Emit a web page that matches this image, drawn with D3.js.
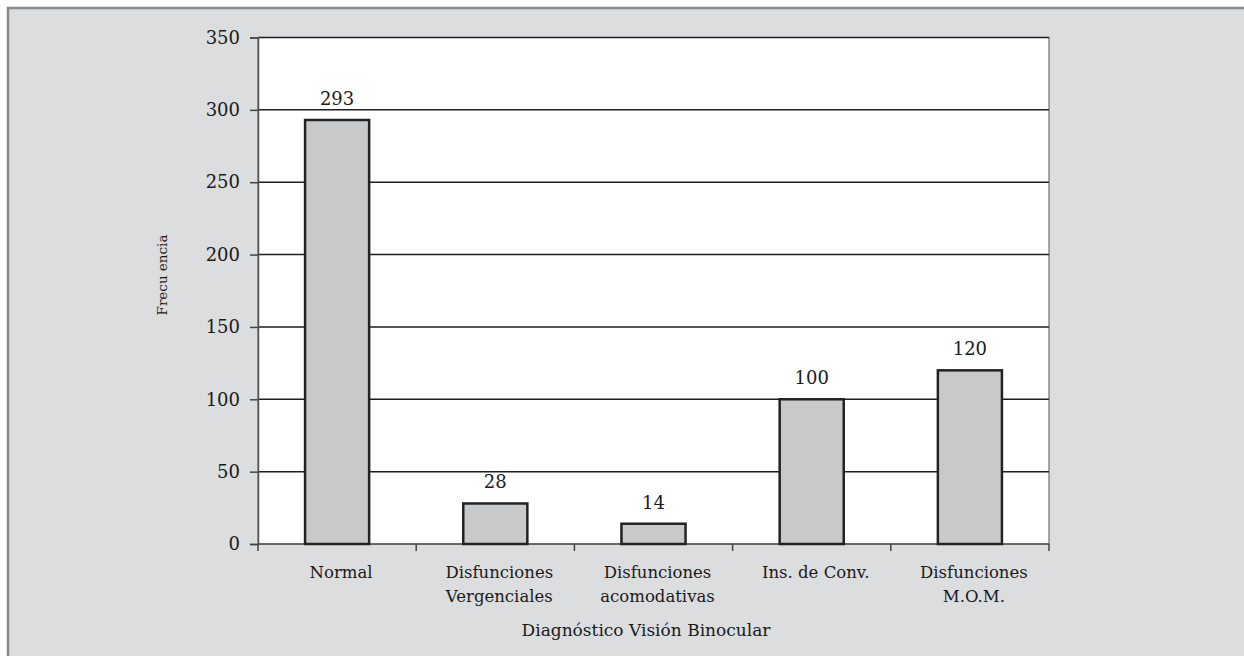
<!DOCTYPE html>
<html>
<head>
<meta charset="utf-8">
<script src="https://cdn.jsdelivr.net/npm/d3@7/dist/d3.min.js"></script>
<style>
  body { margin: 0; background: #fff; }
  text { font-family: "DejaVu Serif", serif; fill: #1a1a1a; }
</style>
</head>
<body>
<div id="chart-container"></div>
<script>
'use strict'

// data
var categories = ['Normal', 'Disfunciones Vergenciales', 'Disfunciones acomodativas', 'Ins. de Conv.', 'Disfunciones M.O.M.']
var categoryLines = [['Normal'], ['Disfunciones', 'Vergenciales'], ['Disfunciones', 'acomodativas'], ['Ins. de Conv.'], ['Disfunciones', 'M.O.M.']]
var frequencies = [293, 28, 14, 100, 120]
var yTicks = [0, 50, 100, 150, 200, 250, 300, 350]
var xTitle = 'Diagnóstico Visión Binocular'
var yTitle = 'Frecu encia'

var W = 1244, H = 656
var plot = { left: 258, right: 1049, top: 37.5, bottom: 544 }

var svg = d3.select('#chart-container')
    .append('svg')
        .attr('width', W)
        .attr('height', H)

// grey panel, only top and left edges visible
svg.append('rect')
    .attr('x', 8)
    .attr('y', 8)
    .attr('width', W + 20)
    .attr('height', H + 20)
    .style('fill', '#dcdddf')
    .style('stroke', '#8a8a8a')
    .style('stroke-width', 2.5)

let x = d3.scaleBand()
    .domain(categories)
    .range([plot.left, plot.right])
    .padding(0)

let y = d3.scaleLinear()
    .domain([0, 350])
    .range([plot.bottom, plot.top])

// white plot area
svg.append('rect')
    .attr('x', plot.left)
    .attr('y', plot.top)
    .attr('width', plot.right - plot.left)
    .attr('height', plot.bottom - plot.top)
    .style('fill', '#fff')
    .style('stroke', '#555')
    .style('stroke-width', 1)

// horizontal grid lines
svg.selectAll('.grid').data(yTicks.filter(d => d > 0))
    .enter().append('line')
    .attr('class', 'grid')
    .attr('x1', plot.left)
    .attr('x2', plot.right)
    .attr('y1', d => y(d))
    .attr('y2', d => y(d))
    .style('stroke', '#1e1e1e')
    .style('stroke-width', 1.5)

// y axis
let yAxis = d3.axisLeft(y).tickValues(yTicks).tickSize(8).tickPadding(10)
let yG = svg.append('g')
    .attr('class', 'y axis')
    .attr('transform', 'translate(' + plot.left + ',0)')
    .call(yAxis)
yG.select('.domain').style('stroke', '#555').style('stroke-width', 1.5)
yG.selectAll('.tick line').style('stroke', '#444').style('stroke-width', 1.5)
yG.selectAll('.tick text')
    .style('font-family', '"DejaVu Serif", serif')
    .style('font-size', '18px')
    .style('fill', '#1a1a1a')

// x axis: ticks at category boundaries
let bounds = categories.map(c => x(c)).concat([plot.right])
let xG = svg.append('g').attr('class', 'x axis')
xG.append('line')
    .attr('x1', plot.left)
    .attr('x2', plot.right)
    .attr('y1', plot.bottom)
    .attr('y2', plot.bottom)
    .style('stroke', '#555')
    .style('stroke-width', 1.5)
xG.selectAll('.xtick').data(bounds)
    .enter().append('line')
    .attr('class', 'xtick')
    .attr('x1', d => d)
    .attr('x2', d => d)
    .attr('y1', plot.bottom)
    .attr('y2', plot.bottom + 7)
    .style('stroke', '#444')
    .style('stroke-width', 1.5)

// bars
let barW = x.bandwidth() * 0.405
svg.selectAll('.bar').data(frequencies)
    .enter().append('rect')
    .attr('class', 'bar')
    .attr('x', (d, i) => x(categories[i]) + (x.bandwidth() - barW) / 2)
    .attr('y', d => y(d))
    .attr('width', barW)
    .attr('height', d => y(0) - y(d))
    .style('fill', '#c8c9cb')
    .style('stroke', '#222')
    .style('stroke-width', 2.5)

// value labels
svg.selectAll('.value').data(frequencies)
    .enter().append('text')
    .attr('class', 'value')
    .attr('x', (d, i) => x(categories[i]) + x.bandwidth() / 2)
    .attr('y', d => y(d) - 15)
    .style('text-anchor', 'middle')
    .style('font-size', '18px')
    .text(d => d)

// category labels (multi-line)
let catText = svg.selectAll('.cat').data(categoryLines)
    .enter().append('text')
    .attr('class', 'cat')
    .attr('x', (d, i) => x(categories[i]) + x.bandwidth() / 2 + 4)
    .attr('y', 578)
    .style('text-anchor', 'middle')
    .style('font-size', '16.5px')
catText.each(function(lines) {
    let t = d3.select(this)
    let cx = t.attr('x')
    lines.forEach((ln, k) => {
        t.append('tspan')
            .attr('x', cx)
            .attr('dy', k === 0 ? 0 : 23.5)
            .text(ln)
    })
})

// axis titles
svg.append('text')
    .attr('x', 646)
    .attr('y', 636)
    .style('text-anchor', 'middle')
    .style('font-size', '17px')
    .text(xTitle)

svg.append('text')
    .attr('transform', 'translate(167,275) rotate(-90)')
    .style('text-anchor', 'middle')
    .style('font-size', '13.5px')
    .text(yTitle)
</script>
</body>
</html>
